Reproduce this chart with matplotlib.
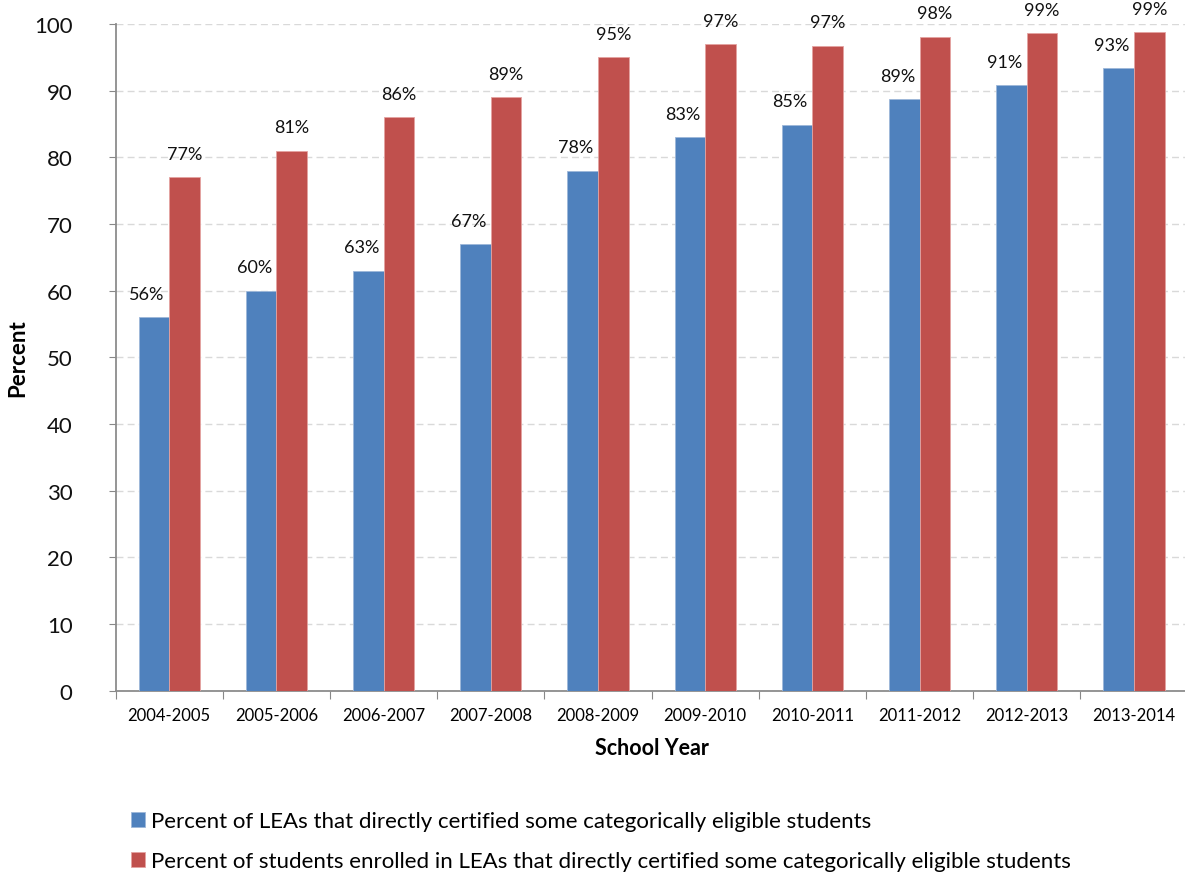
import matplotlib.pyplot as plt
import numpy as np

plt.rcParams['font.family'] = ['Lato', 'DejaVu Sans']

years = ['2004-2005', '2005-2006', '2006-2007', '2007-2008', '2008-2009',
         '2009-2010', '2010-2011', '2011-2012', '2012-2013', '2013-2014']
leas = [56, 60, 63, 67, 78, 83, 84.9, 88.75, 90.8, 93.4]
students = [77, 81, 86, 89, 95, 97, 96.75, 98.1, 98.6, 98.75]
leas_labels = ['56%', '60%', '63%', '67%', '78%', '83%', '85%', '89%', '91%', '93%']
students_labels = ['77%', '81%', '86%', '89%', '95%', '97%', '97%', '98%', '99%', '99%']
legend_names = ['Percent of LEAs that directly certified some categorically eligible students',
                'Percent of students enrolled in LEAs that directly certified some categorically eligible students']

blue = '#4F81BD'
red = '#C0504D'

W, H = 1185, 878
fig = plt.figure(figsize=(W / 100, H / 100), dpi=100)
ax = fig.add_axes([115.6 / W, 186.3 / H, 1072 / W, 666.7 / H])

x = np.arange(len(years))
bw = 0.285
b1 = ax.bar(x - bw / 2, leas, bw, color=blue, edgecolor='#9DB7D9', linewidth=0.6, zorder=3)
b2 = ax.bar(x + bw / 2, students, bw, color=red, edgecolor='#E4A3A1', linewidth=0.6, zorder=3)

for i in range(len(years)):
    ax.annotate(leas_labels[i], (x[i] - bw / 2, leas[i]), xytext=(-5, 11),
                textcoords='offset points', ha='center', va='bottom', fontsize=13,
                color='#111111', annotation_clip=False)
    ax.annotate(students_labels[i], (x[i] + bw / 2, students[i]), xytext=(0, 11),
                textcoords='offset points', ha='center', va='bottom', fontsize=13,
                color='#111111', annotation_clip=False)

ax.set_xlim(-0.5, len(years) - 0.5)
ax.set_ylim(0, 100)
ax.set_yticks(range(0, 101, 10))
ax.tick_params(axis='y', labelsize=16, length=5, color='#888888', pad=26, labelcolor='#111111')
ax.set_xticks(np.arange(-0.5, len(years) + 0.5, 1))
ax.set_xticklabels([])
ax.set_xticks(x, minor=True)
ax.set_xticklabels(years, minor=True, fontsize=12)
ax.tick_params(axis='x', which='major', length=6, color='#888888', direction='out')
ax.tick_params(axis='x', which='minor', length=0, pad=12)

ax.grid(axis='y', color='#D9D9D9', linestyle=(0, (5, 3)), linewidth=1, zorder=0)
for s in ['top', 'right']:
    ax.spines[s].set_visible(False)
for s in ['left', 'bottom']:
    ax.spines[s].set_color('#8C8C8C')
    ax.spines[s].set_linewidth(1.3)

ax.set_ylabel('Percent', fontsize=16, fontweight='bold')
ax.set_xlabel('School Year', fontsize=15.5, fontweight='bold')
ax.yaxis.set_label_coords(-98 / 1072, 0.5)
ax.xaxis.set_label_coords(0.5, -(749 - 691.7) / 666.7)
ax.xaxis.label.set_va('center')
ax.yaxis.label.set_va('center')

ax.legend([b1, b2], legend_names, loc='upper left', bbox_to_anchor=(131 / W, 66 / H),
          bbox_transform=fig.transFigure, frameon=False, fontsize=16,
          handlelength=0.65, handleheight=0.65, handletextpad=0.25, labelspacing=0.9,
          borderaxespad=0, borderpad=0)

fig.savefig('out.png', dpi=100)
